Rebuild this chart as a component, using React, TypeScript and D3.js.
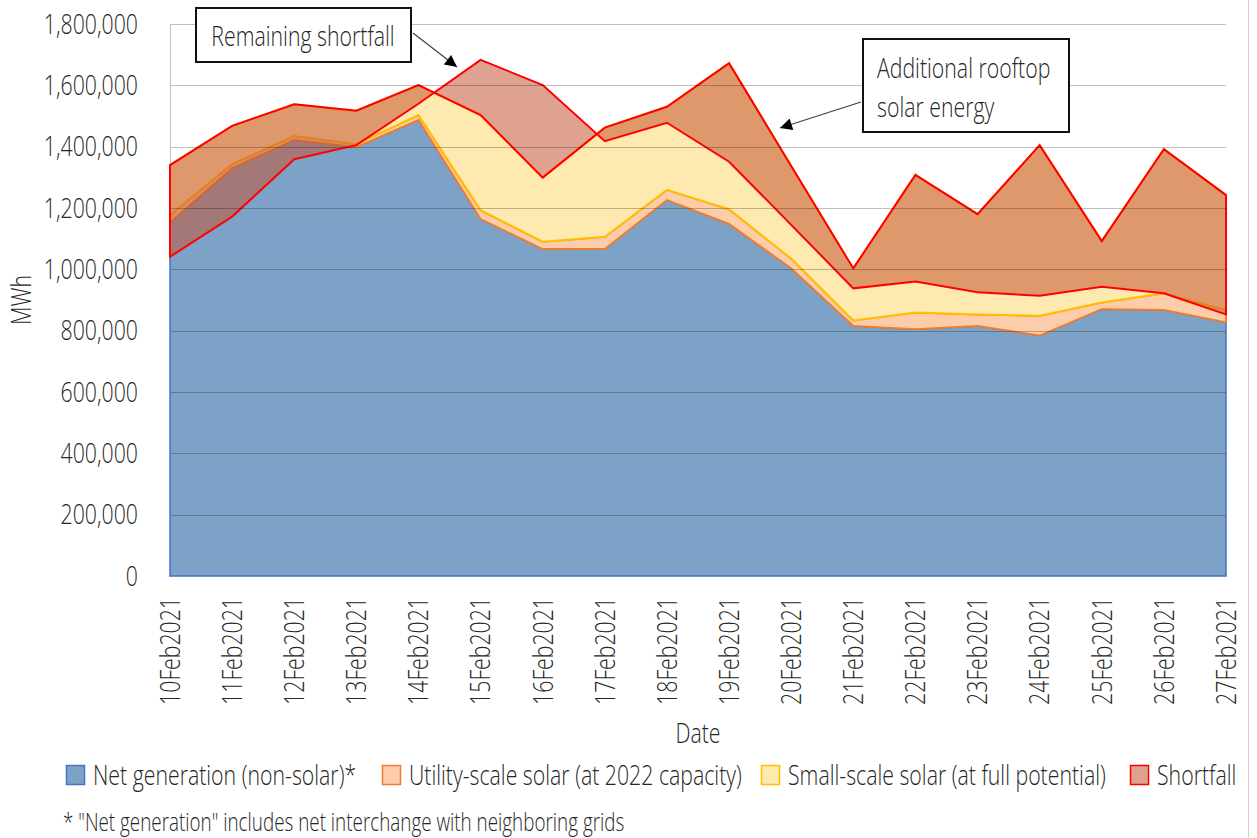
import { useEffect, useRef } from 'react';
import * as d3 from 'd3';

// Daily energy, MWh
const dates = [
  '10Feb2021', '11Feb2021', '12Feb2021', '13Feb2021', '14Feb2021', '15Feb2021',
  '16Feb2021', '17Feb2021', '18Feb2021', '19Feb2021', '20Feb2021', '21Feb2021',
  '22Feb2021', '23Feb2021', '24Feb2021', '25Feb2021', '26Feb2021', '27Feb2021',
];
const netGeneration = [
  1153000, 1329000, 1422000, 1398000, 1487000, 1164000, 1066000, 1066000, 1226000,
  1148000, 1003000, 815000, 805000, 815000, 784000, 870000, 867000, 827000,
];
const utilitySolar = [
  24000, 14000, 13000, 10000, 16000, 29000, 24000, 40000, 33000,
  48000, 32000, 18000, 54000, 38000, 65000, 22000, 55000, 40000,
];
const smallSolar = [
  163000, 125000, 103000, 109000, 98000, 310000, 209000, 356000, 271000,
  476000, 302000, 170000, 449000, 327000, 556000, 200000, 470000, 375000,
];
// shortfall is stacked on top of the solar; negative where supply exceeds demand
const shortfall = [
  -299000, -296000, -179000, -112000, -61000, 180000, 302000, -44000, -52000,
  -321000, -192000, -65000, -348000, -255000, -491000, -149000, -470000, -389000,
];
const yTicks = [0, 200000, 400000, 600000, 800000, 1000000, 1200000, 1400000, 1600000, 1800000];

const series = [
  { name: 'Net generation (non-solar)*', values: netGeneration, fill: '#7ca3c7', opacity: 1, stroke: '#4472c4', sw: 1.5 },
  { name: 'Utility-scale solar (at 2022 capacity)', values: utilitySolar, fill: '#fdcdaa', opacity: 1, stroke: '#ed7d31', sw: 2 },
  { name: 'Small-scale solar (at full potential)', values: smallSolar, fill: '#fee9b0', opacity: 1, stroke: '#ffc000', sw: 2 },
  { name: 'Shortfall', values: shortfall, fill: 'rgb(196,83,50)', opacity: 0.54, stroke: '#ff0000', sw: 2 },
];

const W = 1257;
const H = 838;
const SX = 0.76; // squeeze for the condensed look
const FONT = "'Open Sans', 'DejaVu Sans', sans-serif";
const INK = '#262626';

export default function App() {
  const ref = useRef<SVGSVGElement | null>(null);

  useEffect(() => {
    if (!ref.current) return;
    const svg = d3.select(ref.current);
    svg.selectAll('*').remove();

    const left = 170, right = 1226, top = 24, bottom = 576;
    const x = d3.scalePoint<string>().domain(dates).range([left, right]);
    const y = d3.scaleLinear().domain([0, 1800000]).range([bottom, top]);

    const text = (g: any, str: string, tx: number, ty: number, anchor = 'start', rotate = 0, size = 28) =>
      g.append('text')
        .attr('transform', `translate(${tx},${ty})${rotate ? ` rotate(${rotate})` : ''} scale(${SX},1)`)
        .attr('text-anchor', anchor)
        .attr('dy', '0.35em')
        .attr('font-size', size)
        .attr('font-weight', 300)
        .attr('fill', INK)
        .text(str);

    // stacked levels
    const rows = dates.map((d, i) => {
      const lv = [0];
      series.forEach(s => lv.push(lv[lv.length - 1] + s.values[i]));
      return { date: d, lv };
    });

    // y axis line
    svg.append('line')
      .attr('x1', left + 0.5).attr('x2', left + 0.5).attr('y1', top).attr('y2', bottom)
      .attr('stroke', '#bfbfbf').attr('stroke-width', 1);

    // areas
    series.forEach((s, k) => {
      const area = d3.area<any>()
        .x(r => x(r.date) as number)
        .y0(r => y(r.lv[k]))
        .y1(r => y(r.lv[k + 1]));
      svg.append('path')
        .datum(rows)
        .attr('d', area)
        .attr('fill', s.fill)
        .attr('fill-opacity', s.opacity)
        .attr('stroke', s.stroke)
        .attr('stroke-width', s.sw)
        .attr('stroke-linejoin', 'miter');
    });

    // gridlines (over the areas, translucent)
    svg.append('g').selectAll('line')
      .data(yTicks.filter(t => t > 0))
      .join('line')
      .attr('x1', left + 1).attr('x2', right)
      .attr('y1', d => Math.round(y(d)) + 0.5).attr('y2', d => Math.round(y(d)) + 0.5)
      .attr('stroke', 'rgba(0,0,0,0.25)').attr('stroke-width', 1);

    // y tick labels
    const yg = svg.append('g');
    yTicks.forEach(t => text(yg, d3.format(',')(t), 138, y(t), 'end'));
    text(svg, 'MWh', 21, 300, 'middle', -90);

    // x tick labels
    const xg = svg.append('g');
    dates.forEach(d => text(xg, d, x(d) as number, 597, 'end', -90));
    text(svg, 'Date', 698, 733, 'middle');

    // annotations
    const defs = svg.append('defs');
    defs.append('marker')
      .attr('id', 'arrowhead').attr('viewBox', '0 0 10 10')
      .attr('refX', 10).attr('refY', 5)
      .attr('markerWidth', 14).attr('markerHeight', 12)
      .attr('markerUnits', 'userSpaceOnUse')
      .attr('orient', 'auto')
      .append('path').attr('d', 'M0,0 L10,5 L0,10 Z').attr('fill', '#000');

    const arrow = (x1: number, y1: number, x2: number, y2: number) =>
      svg.append('line')
        .attr('x1', x1).attr('y1', y1).attr('x2', x2).attr('y2', y2)
        .attr('stroke', '#404040').attr('stroke-width', 1.2)
        .attr('marker-end', 'url(#arrowhead)');

    arrow(413, 33, 457, 67);
    svg.append('rect')
      .attr('x', 196).attr('y', 8).attr('width', 215).attr('height', 54)
      .attr('fill', '#fff').attr('stroke', '#111').attr('stroke-width', 2);
    text(svg, 'Remaining shortfall', 303, 36, 'middle');

    arrow(861, 102, 780, 128);
    svg.append('rect')
      .attr('x', 863).attr('y', 39).attr('width', 206).attr('height', 93)
      .attr('fill', '#fff').attr('stroke', '#111').attr('stroke-width', 2);
    text(svg, 'Additional rooftop', 877, 68, 'start');
    text(svg, 'solar energy', 877, 107, 'start');

    // legend
    const legendX = [66, 382, 761, 1130];
    const lg = svg.append('g');
    series.forEach((s, i) => {
      lg.append('rect')
        .attr('x', legendX[i] + 0.5).attr('y', 765.5).attr('width', 18).attr('height', 19)
        .attr('fill', s.fill).attr('fill-opacity', s.opacity)
        .attr('stroke', s.stroke).attr('stroke-width', 1.5);
      text(lg, s.name, legendX[i] + 27, 775, 'start');
    });
    text(svg, '* "Net generation" includes net interchange with neighboring grids', 63, 822, 'start', 0, 24.8);

    // chart frame edge on the right
    svg.append('line')
      .attr('x1', 1248.5).attr('x2', 1248.5).attr('y1', 0).attr('y2', H)
      .attr('stroke', '#d0d0d0').attr('stroke-width', 1);
  }, []);

  return (
    <svg
      ref={ref}
      width={W}
      height={H}
      style={{ position: 'absolute', left: 0, top: 0, background: '#fff', fontFamily: FONT }}
    />
  );
}
